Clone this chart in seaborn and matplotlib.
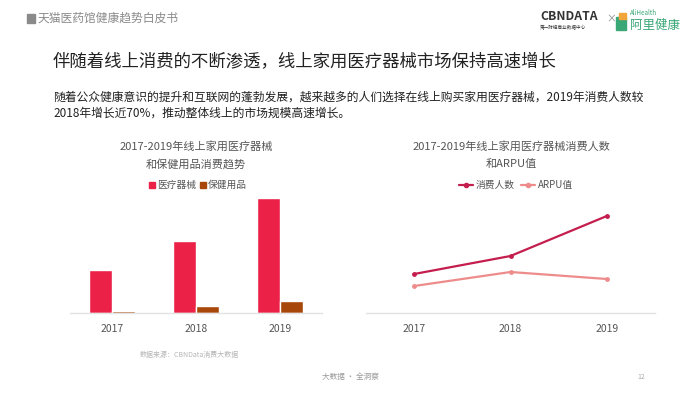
import numpy as np
import pandas as pd
import seaborn as sns
import matplotlib.pyplot as plt
from matplotlib.patches import Rectangle

sns.set_style("white")
plt.rcParams['font.family'] = ['Noto Sans CJK SC', 'DejaVu Sans']

years = ["2017", "2018", "2019"]
bar_series = ["医疗器械", "保健用品"]
medical = [43, 72, 115]
health = [2.2, 7, 12.5]
line_series = ["消费人数", "ARPU值"]
buyers = [39, 57, 97]
arpu = [27, 41, 34]

bar_colors = ["#EC2148", "#A8470A"]
line_colors = ["#C41E4E", "#EE8C8C"]

fig = plt.figure(figsize=(7, 3.94), dpi=100)

# header
fig.patches.append(Rectangle((27 / 700, 1 - 23 / 394), 8 / 700, 9 / 394,
                             transform=fig.transFigure, color="#8a8a8a"))
fig.text(38 / 700, 1 - 18 / 394, "天猫医药馆健康趋势白皮书", fontsize=8.5,
         color="#8a8a8a", va="center")
fig.text(540 / 700, 1 - 16 / 394, "CBNDATA", fontsize=8.8, fontweight="bold",
         color="#333333", va="center")
fig.text(540 / 700, 1 - 28 / 394, "第一财经商业数据中心", fontsize=3.3,
         color="#333333", va="center")
fig.text(606 / 700, 1 - 19 / 394, "×", fontsize=7, color="#888888", va="center")
fig.patches.append(Rectangle((616 / 700, 1 - 30 / 394), 10 / 700, 13 / 394,
                             transform=fig.transFigure, color="#3aa776"))
fig.patches.append(Rectangle((619 / 700, 1 - 19 / 394), 7 / 700, 6 / 394,
                             transform=fig.transFigure, color="#f2a53a"))
fig.text(630 / 700, 1 - 13 / 394, "AliHealth", fontsize=4.5, color="#3aa776", va="center")
fig.text(630 / 700, 1 - 25 / 394, "阿里健康", fontsize=9, color="#3aa776", va="center")

# title and description
fig.text(53 / 700, 1 - 62 / 394, "伴随着线上消费的不断渗透，线上家用医疗器械市场保持高速增长",
         fontsize=12.5, fontweight="medium", color="#222222", va="center")
fig.text(53 / 700, 1 - 97 / 394,
         "随着公众健康意识的提升和互联网的蓬勃发展，越来越多的人们选择在线上购买家用医疗器械，2019年消费人数较",
         fontsize=8.5, fontweight="medium", color="#222222", va="center")
fig.text(53 / 700, 1 - 113 / 394, "2018年增长近70%，推动整体线上的市场规模高速增长。",
         fontsize=8.5, fontweight="medium", color="#222222", va="center")

# left: bar chart
ax1 = fig.add_axes([70 / 700, 1 - 313 / 394, 252 / 700, 128 / 394])
df_bar = pd.DataFrame({
    "year": years * 2,
    "series": [bar_series[0]] * 3 + [bar_series[1]] * 3,
    "value": medical + health,
})
sns.barplot(data=df_bar, x="year", y="value", hue="series", palette=bar_colors,
            width=0.55, saturation=1, legend=False, ax=ax1)
ax1.set_xlim(-0.5, 2.5)
ax1.set_ylim(0, 128)

# right: line chart
ax2 = fig.add_axes([366 / 700, 1 - 313 / 394, 289 / 700, 128 / 394])
df_line = pd.DataFrame({
    "year": years * 2,
    "series": [line_series[0]] * 3 + [line_series[1]] * 3,
    "value": buyers + arpu,
})
sns.lineplot(data=df_line, x="year", y="value", hue="series", palette=line_colors,
             marker="o", markersize=3.5, markeredgewidth=0, linewidth=1.6,
             legend=False, ax=ax2)
ax2.set_xlim(-0.5, 2.5)
ax2.set_ylim(0, 128)

for ax in (ax1, ax2):
    sns.despine(ax=ax, left=True, top=True, right=True)
    ax.spines["bottom"].set_color("#e3e3e3")
    ax.spines["bottom"].set_linewidth(1)
    ax.set_yticks([])
    ax.set_xlabel("")
    ax.set_ylabel("")
    ax.tick_params(axis="x", length=0, pad=8, labelsize=7.5, labelcolor="#555555")

# chart titles
fig.text(196 / 700, 1 - 146 / 394, "2017-2019年线上家用医疗器械", fontsize=8,
         color="#555555", ha="center", va="center")
fig.text(196 / 700, 1 - 164 / 394, "和保健用品消费趋势", fontsize=8,
         color="#555555", ha="center", va="center")
fig.text(511 / 700, 1 - 146 / 394, "2017-2019年线上家用医疗器械消费人数", fontsize=8,
         color="#555555", ha="center", va="center")
fig.text(511 / 700, 1 - 164 / 394, "和ARPU值", fontsize=8,
         color="#555555", ha="center", va="center")

# legends drawn by hand in figure coords
ly = 1 - 185 / 394
fig.patches.append(Rectangle((149 / 700, ly - 3 / 394), 6 / 700, 6 / 394,
                             transform=fig.transFigure, color=bar_colors[0]))
fig.text(157 / 700, ly, bar_series[0], fontsize=7, color="#555555", va="center")
fig.patches.append(Rectangle((200 / 700, ly - 3 / 394), 6 / 700, 6 / 394,
                             transform=fig.transFigure, color=bar_colors[1]))
fig.text(208 / 700, ly, bar_series[1], fontsize=7, color="#555555", va="center")

for x0, name, c in [(459, line_series[0], line_colors[0]), (521, line_series[1], line_colors[1])]:
    fig.lines.append(plt.Line2D([x0 / 700, (x0 + 7) / 700, (x0 + 14) / 700], [ly, ly, ly],
                                color=c, linewidth=1.6, transform=fig.transFigure,
                                marker="o", markersize=3, markevery=[1]))
    fig.text((x0 + 17) / 700, ly, name, fontsize=7, color="#555555", va="center")

# footer
fig.text(140 / 700, 1 - 355 / 394, "数据来源：CBNData消费大数据", fontsize=5,
         color="#b5b5b5", va="center")
fig.text(350 / 700, 1 - 377 / 394, "大数据 · 全洞察", fontsize=5.5,
         color="#999999", ha="center", va="center")
fig.text(641 / 700, 1 - 377 / 394, "12", fontsize=5, color="#aaaaaa", ha="center", va="center")

fig.savefig("out.png", dpi=100)
